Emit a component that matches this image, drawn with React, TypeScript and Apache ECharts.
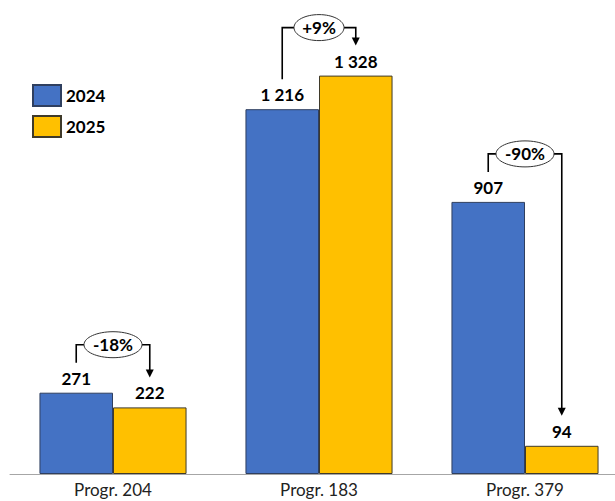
import React, { useEffect, useRef } from "react";
import * as echarts from "echarts";

const categories = ["Progr. 204", "Progr. 183", "Progr. 379"];
const seriesNames = ["2024", "2025"];
const values2024 = [271, 1216, 907];
const values2025 = [222, 1328, 94];
const changeLabels = ["-18%", "+9%", "-90%"];

const FONT = "Lato, 'Noto Sans', sans-serif";
const CAT_GAP = 0.286;

function fmt(v: number): string {
  return String(v).replace(/\B(?=(\d{3})+(?!\d))/g, " ");
}

export default function App() {
  const ref = useRef<HTMLDivElement>(null);
  useEffect(() => {
    if (!ref.current) return;
    const chart = echarts.init(ref.current, undefined, { renderer: "svg" });
    const bracketData = categories.map((_, i) => [i, values2024[i], values2025[i], changeLabels[i]]);
    const labelStyle = {
      show: true,
      position: "top",
      distance: 6,
      formatter: (p: any) => fmt(p.value),
      fontFamily: FONT,
      fontWeight: "bold",
      fontSize: 17,
      color: "#000",
    };
    chart.setOption({
      animation: false,
      backgroundColor: "#ffffff",
      grid: { left: 10, top: 24, bottom: 27, width: 618, outerBoundsMode: "none", containLabel: false },
      legend: {
        data: seriesNames,
        orient: "vertical",
        left: 27,
        top: 79,
        itemWidth: 28,
        itemHeight: 21,
        itemGap: 8,
        icon: "rect",
        textStyle: { fontFamily: FONT, fontWeight: "bold", fontSize: 17, color: "#000" },
      },
      xAxis: {
        type: "category",
        data: categories,
        axisLine: { lineStyle: { color: "#a6a6a6", width: 1 } },
        axisTick: { show: false },
        axisLabel: { fontFamily: FONT, fontSize: 17, lineHeight: 17, color: "#222", margin: 7 },
      },
      yAxis: { type: "value", min: 0, max: 1500, show: false, splitLine: { show: false } },
      series: [
        {
          name: seriesNames[0],
          type: "bar",
          data: values2024,
          barGap: "0%",
          barCategoryGap: CAT_GAP * 100 + "%",
          itemStyle: { color: "#4472C4", borderColor: "#2f3f5f", borderWidth: 1 },
          label: labelStyle,
        },
        {
          name: seriesNames[1],
          type: "bar",
          data: values2025,
          barGap: "0%",
          barCategoryGap: CAT_GAP * 100 + "%",
          itemStyle: { color: "#FFC000", borderColor: "#3f3a2a", borderWidth: 1 },
          label: labelStyle,
        },
        {
          type: "custom",
          silent: true,
          data: bracketData,
          encode: { x: 0, y: 1 },
          renderItem: (params: any, api: any) => {
            const idx = api.value(0);
            const v1 = api.value(1);
            const v2 = api.value(2);
            const label = changeLabels[idx];
            const center = api.coord([idx, 0])[0];
            const band = api.size([1, 0])[0];
            const bw = (band * (1 - CAT_GAP)) / 2;
            const x1 = center - bw / 2;
            const x2 = center + bw / 2;
            const y1 = api.coord([idx, v1])[1];
            const y2 = api.coord([idx, v2])[1];
            const startY = y1 - 30;
            const tipY = y2 - 30;
            const level = Math.min(y1, y2) - 48;
            const rx = label.length <= 3 ? 25 : 29;
            const ry = 13;
            const lineStyle = { stroke: "#000", lineWidth: 1.6, fill: null };
            return {
              type: "group",
              children: [
                {
                  type: "polyline",
                  shape: { points: [[x1, startY], [x1, level], [center - rx, level]] },
                  style: lineStyle,
                },
                {
                  type: "polyline",
                  shape: { points: [[center + rx, level], [x2, level], [x2, tipY - 7]] },
                  style: lineStyle,
                },
                {
                  type: "polygon",
                  shape: { points: [[x2 - 4, tipY - 8], [x2 + 4, tipY - 8], [x2, tipY]] },
                  style: { fill: "#000" },
                },
                {
                  type: "ellipse",
                  shape: { cx: center, cy: level, rx, ry },
                  style: { fill: "#fff", stroke: "#333", lineWidth: 1 },
                },
                {
                  type: "text",
                  x: center,
                  y: level,
                  style: {
                    text: label,
                    align: "center",
                    verticalAlign: "middle",
                    fontFamily: FONT,
                    fontWeight: "bold",
                    fontSize: 17,
                    fill: "#000",
                  },
                },
              ],
            };
          },
        },
      ],
    });
    return () => chart.dispose();
  }, []);
  return (
    <div
      ref={ref}
      style={{ position: "fixed", left: 0, top: 0, width: 615, height: 501 }}
    />
  );
}
